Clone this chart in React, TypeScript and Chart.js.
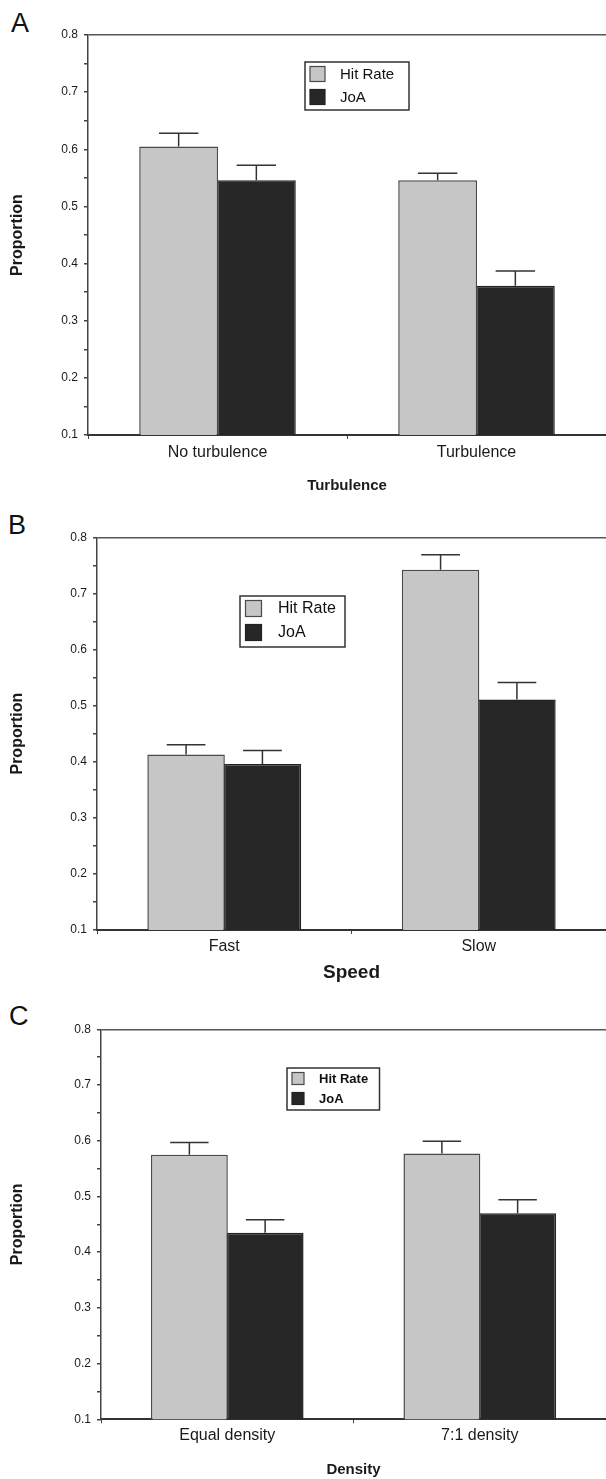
import { useEffect, useRef } from 'react';
import { Chart, registerables } from 'chart.js';

Chart.register(...registerables);

const FONT = "'Liberation Sans', Arial, Helvetica, sans-serif";
Chart.defaults.font.family = FONT;

// ---------- data ----------
const seriesLabels = ['Hit Rate', 'JoA'];

const categoriesA = ['No turbulence', 'Turbulence'];
const hitRateA = [0.605, 0.546];
const hitRateErrA = [0.023, 0.012];
const joaA = [0.546, 0.361];
const joaErrA = [0.026, 0.026];

const categoriesB = ['Fast', 'Slow'];
const hitRateB = [0.413, 0.742];
const hitRateErrB = [0.017, 0.027];
const joaB = [0.396, 0.511];
const joaErrB = [0.024, 0.030];

const categoriesC = ['Equal density', '7:1 density'];
const hitRateC = [0.575, 0.577];
const hitRateErrC = [0.022, 0.022];
const joaC = [0.435, 0.47];
const joaErrC = [0.023, 0.024];

const yMin = 0.1;
const yMax = 0.8;
const yStep = 0.05;

const yTitle = 'Proportion';
const xTitles = ['Turbulence', 'Speed', 'Density'];
const panelLetters = ['A', 'B', 'C'];

// ---------- plugins ----------
const errorBarPlugin = {
  id: 'errorBars',
  afterDatasetsDraw(chart: any) {
    const { ctx } = chart;
    const yScale = chart.scales.y;
    chart.data.datasets.forEach((ds: any, i: number) => {
      const meta = chart.getDatasetMeta(i);
      const errs: number[] = ds.errors || [];
      meta.data.forEach((bar: any, j: number) => {
        const v = ds.data[j] as number;
        const e = errs[j] || 0;
        const top = yScale.getPixelForValue(v + e);
        const half = bar.width / 4;
        ctx.save();
        ctx.strokeStyle = '#333';
        ctx.lineWidth = 1.5;
        ctx.beginPath();
        ctx.moveTo(bar.x, bar.y);
        ctx.lineTo(bar.x, top);
        ctx.moveTo(bar.x - half, top);
        ctx.lineTo(bar.x + half, top);
        ctx.stroke();
        ctx.restore();
      });
    });
  },
};

const boxLegendPlugin = {
  id: 'boxLegend',
  afterDraw(chart: any, _args: any, opts: any) {
    if (!opts || !opts.box) return;
    const { ctx } = chart;
    const [bx, by, bw, bh] = opts.box;
    ctx.save();
    ctx.fillStyle = '#fff';
    ctx.fillRect(bx, by, bw, bh);
    ctx.strokeStyle = '#333';
    ctx.lineWidth = 1.5;
    ctx.strokeRect(bx, by, bw, bh);
    const s = opts.swatch;
    chart.data.datasets.forEach((ds: any, i: number) => {
      const cy = opts.rowY[i];
      ctx.fillStyle = ds.backgroundColor;
      ctx.fillRect(opts.swatchX, cy - s / 2, s, s);
      ctx.strokeStyle = ds.borderColor;
      ctx.lineWidth = 1.2;
      ctx.strokeRect(opts.swatchX, cy - s / 2, s, s);
      ctx.fillStyle = '#111';
      ctx.font = opts.font;
      ctx.textAlign = 'left';
      ctx.textBaseline = 'middle';
      ctx.fillText(ds.label, opts.textX, cy + 0.5);
    });
    ctx.restore();
  },
};

// ---------- panel layouts ----------
interface PanelLayout {
  top: number;
  height: number;
  axisWidth: number;
  axisHeight: number;
  padTop: number;
  tickPad: number;
  xTitleSize: number;
  xTitlePad: number;
  letterTop: number;
  letterLeft: number;
  legend: any;
}

const layouts: PanelLayout[] = [
  {
    top: 0, height: 500, axisWidth: 88, axisHeight: 65, padTop: 35, tickPad: 4.4,
    xTitleSize: 15, xTitlePad: 5.5, letterTop: 10, letterLeft: 11,
    legend: { box: [305, 62, 104, 48], swatchX: 310, swatch: 15, rowY: [74, 97], textX: 340, font: `15px ${FONT}` },
  },
  {
    top: 500, height: 490, axisWidth: 97, axisHeight: 60, padTop: 37.3, tickPad: 3.1,
    xTitleSize: 19, xTitlePad: 6.3, letterTop: 512, letterLeft: 8,
    legend: { box: [240, 96, 105, 51], swatchX: 245.5, swatch: 16, rowY: [108.5, 132.5], textX: 278, font: `16px ${FONT}` },
  },
  {
    top: 990, height: 489, axisWidth: 101, axisHeight: 59.7, padTop: 39.3, tickPad: 2.9,
    xTitleSize: 15, xTitlePad: 0.5, letterTop: 1003, letterLeft: 9,
    legend: { box: [287, 78, 92.5, 42], swatchX: 292, swatch: 12, rowY: [88.5, 108.5], textX: 319, font: `bold 13px ${FONT}` },
  },
];

const panelData = [
  { cats: categoriesA, hr: hitRateA, hrErr: hitRateErrA, joa: joaA, joaErr: joaErrA },
  { cats: categoriesB, hr: hitRateB, hrErr: hitRateErrB, joa: joaB, joaErr: joaErrB },
  { cats: categoriesC, hr: hitRateC, hrErr: hitRateErrC, joa: joaC, joaErr: joaErrC },
];

const isNear = (a: number, b: number) => Math.abs(a - b) < 1e-6;

function Panel({ index }: { index: number }) {
  const ref = useRef<HTMLCanvasElement | null>(null);
  const L = layouts[index];
  const D = panelData[index];

  useEffect(() => {
    if (!ref.current) return;
    const chart = new Chart(ref.current, {
      type: 'bar',
      data: {
        labels: D.cats,
        datasets: [
          {
            label: seriesLabels[0],
            data: D.hr,
            errors: D.hrErr,
            backgroundColor: '#c6c6c6',
            borderColor: '#4a4a4a',
            borderWidth: 1.5,
            categoryPercentage: 0.6,
            barPercentage: 1.015,
          } as any,
          {
            label: seriesLabels[1],
            data: D.joa,
            errors: D.joaErr,
            backgroundColor: '#272727',
            borderColor: '#222',
            borderWidth: 1.5,
            categoryPercentage: 0.6,
            barPercentage: 1.015,
          } as any,
        ],
      },
      options: {
        animation: false,
        responsive: false,
        maintainAspectRatio: false,
        layout: { padding: { top: L.padTop, left: 0, right: 0, bottom: 0 } },
        plugins: {
          legend: { display: false },
          tooltip: { enabled: false },
          boxLegend: L.legend,
        } as any,
        scales: {
          x: {
            offset: true,
            afterFit: (s: any) => { s.height = L.axisHeight; },
            grid: {
              display: true,
              drawOnChartArea: false,
              offset: true,
              tickLength: 4,
              color: '#444',
              lineWidth: 1,
            },
            border: { display: true, color: '#333', width: 2 },
            ticks: {
              color: '#1a1a1a',
              font: { size: 16 },
              padding: L.tickPad,
              maxRotation: 0,
              autoSkip: false,
            },
            title: {
              display: true,
              text: xTitles[index],
              color: '#1a1a1a',
              font: { size: L.xTitleSize, weight: 'bold' },
              padding: { top: 0, bottom: L.xTitlePad },
            },
          },
          y: {
            min: yMin,
            max: yMax,
            afterFit: (s: any) => { s.width = L.axisWidth; },
            grid: {
              display: true,
              drawOnChartArea: true,
              tickLength: 4,
              color: (c: any) => (c.tick && isNear(c.tick.value, yMax) ? '#555' : 'rgba(0,0,0,0)'),
              tickColor: '#444',
              lineWidth: 1.5,
            },
            border: { display: true, color: '#444', width: 1.5 },
            ticks: {
              stepSize: yStep,
              autoSkip: false,
              color: '#1a1a1a',
              font: { size: 12 },
              padding: 6,
              callback: (v: any) => {
                const n = Number(v);
                return isNear(Math.round(n * 10) / 10, n) ? n.toFixed(1) : '';
              },
            },
            title: {
              display: true,
              text: yTitle,
              color: '#1a1a1a',
              font: { size: 16, weight: 'bold' },
              padding: { top: 7.5, bottom: 0 },
            },
          },
        },
      } as any,
      plugins: [errorBarPlugin, boxLegendPlugin],
    });
    return () => chart.destroy();
  }, []);

  return (
    <>
      <div
        style={{
          position: 'absolute',
          left: L.letterLeft,
          top: L.letterTop,
          fontFamily: FONT,
          fontSize: 27,
          lineHeight: '27px',
          color: '#111',
        }}
      >
        {panelLetters[index]}
      </div>
      <canvas
        ref={ref}
        width={606}
        height={L.height}
        style={{ position: 'absolute', left: 0, top: L.top, width: 606, height: L.height }}
      />
    </>
  );
}

export default function App() {
  return (
    <div style={{ position: 'absolute', left: 0, top: 0, width: 606, height: 1479, background: '#fff', overflow: 'hidden' }}>
      <Panel index={0} />
      <Panel index={1} />
      <Panel index={2} />
    </div>
  );
}
